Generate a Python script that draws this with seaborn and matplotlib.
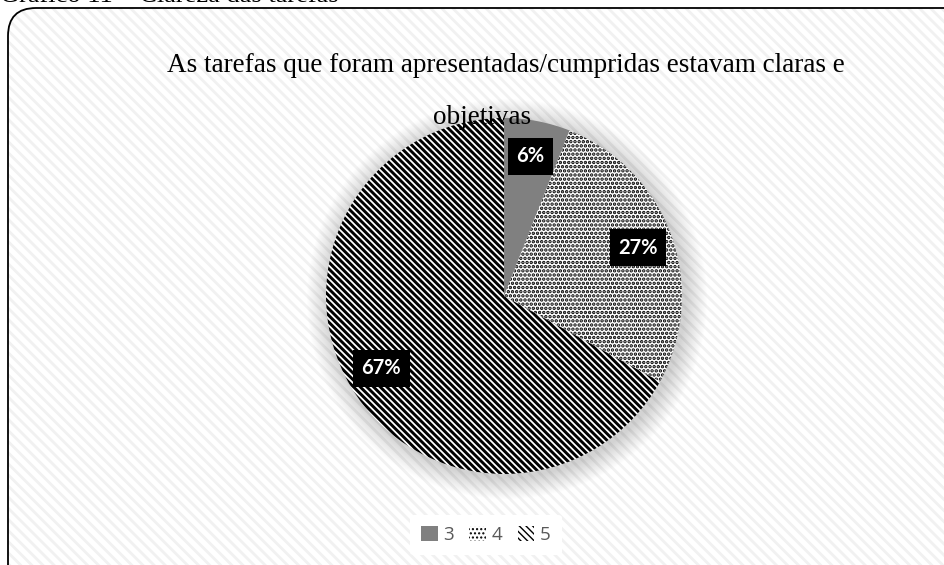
import matplotlib
matplotlib.use("Agg")
import matplotlib.pyplot as plt
import seaborn as sns
from matplotlib.patches import FancyBboxPatch, Circle

# Survey answers (Likert scale) and their share of responses
categories = ["3", "4", "5"]
percentages = [6, 27, 67]
title_lines = ["As tarefas que foram apresentadas/cumpridas estavam claras e", "objetivas"]
caption = "Gráfico 11 – Clareza das tarefas"

sns.set_theme(style="white")
plt.rcParams["font.family"] = ["Lato", "DejaVu Sans"]
SERIF = ["Liberation Serif", "DejaVu Serif"]

W, H = 945, 565
fig = plt.figure(figsize=(W / 100, H / 100), dpi=100)
ax = fig.add_axes([0, 0, 1, 1])

# Chart area: rounded frame filled with faint diagonal stripes
frame_xy = (8, -40)
frame_w, frame_h = W + 60, H - 8 + 40
stripes = FancyBboxPatch(frame_xy, frame_w, frame_h,
                         boxstyle="round,pad=0,rounding_size=28",
                         facecolor="white", edgecolor="#f1f1f1", linewidth=0,
                         hatch="\\\\\\", zorder=0)
if hasattr(stripes, "set_hatch_linewidth"):
    stripes.set_hatch_linewidth(2.0)
ax.add_patch(stripes)
ax.add_patch(FancyBboxPatch(frame_xy, frame_w, frame_h,
                            boxstyle="round,pad=0,rounding_size=28",
                            fill=False, edgecolor="black", linewidth=1.3, zorder=0.2))

center = (504, 269)
radius = 178

# Soft shadow around the pie
for k in range(22, 0, -1):
    ax.add_patch(Circle((center[0] + 3, center[1] - 3), radius + k,
                        facecolor="black", edgecolor="none", alpha=0.007, zorder=0.5))

palette = ["#808080", "white", "white"]
wedges, texts, autotexts = ax.pie(
    percentages, colors=palette, startangle=90, counterclock=False,
    center=center, radius=radius,
    autopct=lambda p: f"{p:.0f}%", pctdistance=0.8,
    wedgeprops=dict(linewidth=0, edgecolor="black"),
)
hatches = [None, "....", "\\\\\\\\\\"]
hatch_widths = [1.0, 1.7, 2.1]
for w, h, hw in zip(wedges, hatches, hatch_widths):
    w.set_zorder(1)
    if h:
        w.set_hatch(h)
        w.set_edgecolor("black")
        if hasattr(w, "set_hatch_linewidth"):
            w.set_hatch_linewidth(hw)

for t in autotexts:
    t.set_color("white")
    t.set_fontweight("bold")
    t.set_fontsize(14.5)
    t.set_bbox(dict(boxstyle="square,pad=0.42", facecolor="black", edgecolor="none"))
    t.set_zorder(4)

ax.text(506, H - 65, title_lines[0], ha="center", va="center",
        family=SERIF, fontsize=19.5, color="black", zorder=5)
ax.text(482, H - 118, title_lines[1], ha="center", va="center",
        family=SERIF, fontsize=19.5, color="black", zorder=5)
ax.text(0, H - 1.5, caption, ha="left", va="baseline",
        family=SERIF, fontsize=19, color="black", zorder=5)

leg = ax.legend(wedges, categories, loc="center", bbox_to_anchor=(486 / W, 1 - 535 / H),
                ncol=3, frameon=True, facecolor="white", edgecolor="none", framealpha=1,
                handlelength=0.9, handleheight=0.9, handletextpad=0.3,
                columnspacing=0.8, labelcolor="#595959", borderpad=0.6,
                prop={"family": ["Open Sans", "DejaVu Sans"], "size": 13.5})
leg.get_frame().set_linewidth(0)

ax.set_xlim(0, W)
ax.set_ylim(0, H)
ax.set_aspect("equal")
ax.axis("off")

fig.savefig("out.png", dpi=100)
